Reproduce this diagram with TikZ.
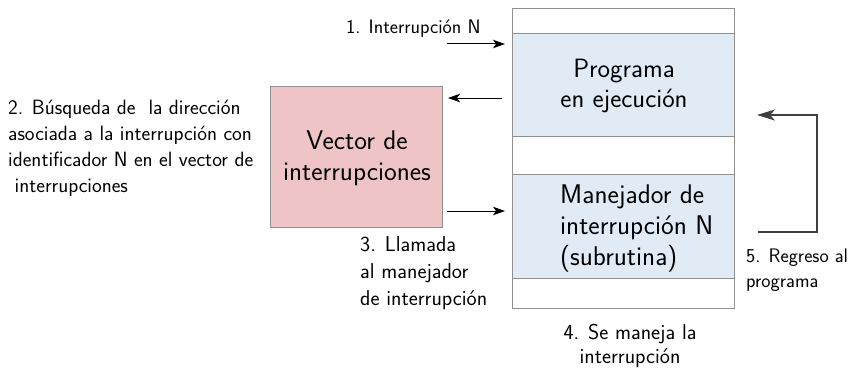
\documentclass[tikz,border=0pt]{standalone}
\usetikzlibrary{arrows.meta}
\definecolor{bluefill}{HTML}{E1EBF6}
\definecolor{pinkfill}{HTML}{EEC4C6}
\definecolor{edgegray}{HTML}{909090}
\definecolor{retgray}{HTML}{404040}
\begin{document}
\begin{tikzpicture}[x=1pt,y=-1pt,
  small/.style={font=\sffamily\fontsize{21.5}{26}\selectfont, inner sep=0pt},
  mid/.style={font=\sffamily\fontsize{20.7}{26}\selectfont, inner sep=0pt},
  tiny/.style={font=\sffamily\fontsize{19.6}{24}\selectfont, inner sep=0pt},
  big/.style={font=\sffamily\fontsize{27}{32}\selectfont, inner sep=0pt},
  arr/.style={-{Stealth[length=12pt,width=8.5pt,inset=3pt]}, line width=1pt},
  retarr/.style={-{Stealth[length=18pt,width=11pt,inset=5pt]}, line width=1.1pt, draw=retgray},
  stripe/.style={draw=edgegray, line width=0.6pt}]
\useasboundingbox (0,0) rectangle (850,369);
% column
\filldraw[stripe, fill=white] (512,8) rectangle (734,308);
\filldraw[stripe, fill=bluefill] (512,33) rectangle (734,136);
\filldraw[stripe, fill=bluefill] (512,174) rectangle (734,278);
\node[big, font=\sffamily\fontsize{26.5}{32}\selectfont, anchor=base] (prog1) at (624,77) {Programa};
\node[big, font=\sffamily\fontsize{26.5}{32}\selectfont, anchor=base] (prog2) at (624,107) {en ejecución};
\node[big, anchor=base west] (man1) at (560,203) {Manejador de};
\node[big, anchor=base west] (man2) at (560,234) {interrupción N};
\node[big, anchor=base west] (man3) at (560,265) {(subrutina)};
% vector
\node[draw=edgegray, line width=0.6pt, fill=pinkfill, minimum width=172pt, minimum height=141pt] (vec) at (356,156.5) {};
\node[big, anchor=base] (vec1) at (357,149) {Vector de};
\node[big, anchor=base] (vec2) at (357,180) {interrupciones};
% texts
\node[tiny, anchor=base west] (t1) at (346,34) {1. Interrupción N};
\node[mid, anchor=base west] (t2a) at (8,114) {2. Búsqueda de\ \ la dirección};
\node[mid, anchor=base west] (t2b) at (8,140) {asociada a la interrupción con};
\node[mid, anchor=base west] (t2c) at (8,166) {identificador N en el vector de};
\node[mid, anchor=base west] (t2d) at (8,192) {\ interrupciones};
\node[small, anchor=base west] (t3a) at (360,251) {3. Llamada};
\node[small, anchor=base west] (t3b) at (360,278) {al manejador};
\node[small, anchor=base west] (t3c) at (360,305) {de interrupción};
\node[small, anchor=base] (t4a) at (630,339) {4. Se maneja la};
\node[small, anchor=base] (t4b) at (630,363) {interrupción};
\node[tiny, anchor=base west] (t5a) at (746,262) {5. Regreso al};
\node[tiny, anchor=base west] (t5b) at (746,287) {programa};
% arrows
\coordinate (a1s) at (447,44); \coordinate (a1e) at (505,44);
\coordinate (a2s) at (502,98); \coordinate (a2e) at (448,98);
\coordinate (a3s) at (447,211); \coordinate (a3e) at (505,211);
\coordinate (r1) at (758,232); \coordinate (r2) at (817,232);
\coordinate (r3) at (817,115); \coordinate (r4) at (757,115);
\draw[arr] (a1s) -- (a1e);
\draw[arr] (a2s) -- (a2e);
\draw[arr] (a3s) -- (a3e);
\draw[retarr] (r1) -- (r2) -- (r3) -- (r4);
\end{tikzpicture}
\end{document}
